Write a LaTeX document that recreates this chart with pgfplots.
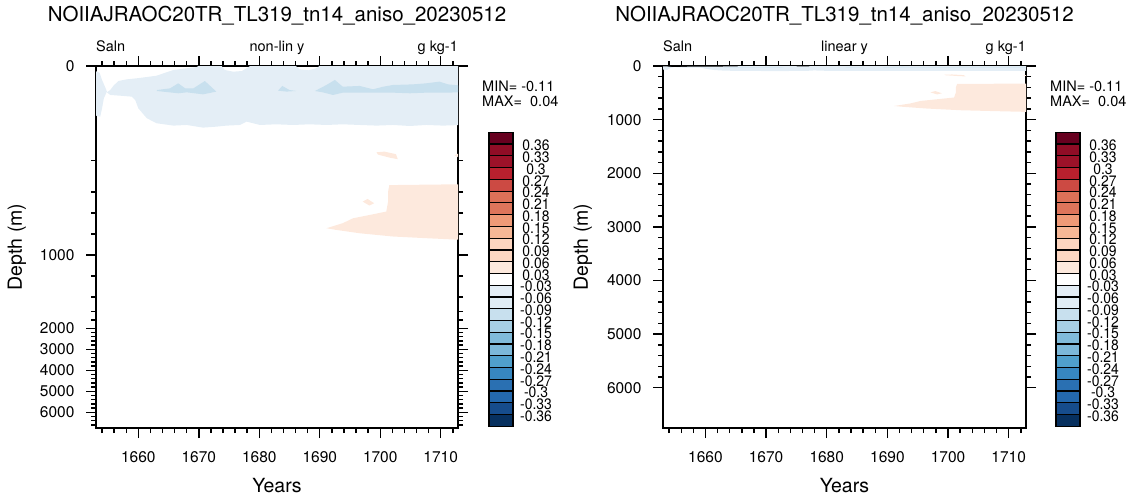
\documentclass[border=0pt]{standalone}
\usepackage{pgfplots}
\pgfplotsset{compat=1.18}
\usepackage{pgfplotstable}
\usepackage{graphicx}
\usepackage{fontspec}
\setmainfont{TeX Gyre Heros}

% 25-step diverging palette, top (red) to bottom (blue)
\definecolor{c01}{HTML}{67001F}
\definecolor{c02}{HTML}{900D26}
\definecolor{c03}{HTML}{9C1229}
\definecolor{c04}{HTML}{B8202E}
\definecolor{c05}{HTML}{CC4A43}
\definecolor{c06}{HTML}{DD7158}
\definecolor{c07}{HTML}{DE755B}
\definecolor{c08}{HTML}{EF9A77}
\definecolor{c09}{HTML}{F6B796}
\definecolor{c10}{HTML}{FDD5BF}
\definecolor{c11}{HTML}{FDD7C2}
\definecolor{c12}{HTML}{FDE9DD}
\definecolor{c13}{HTML}{FFFFFF}
\definecolor{c14}{HTML}{E4EEF6}
\definecolor{c15}{HTML}{E1EDF5}
\definecolor{c16}{HTML}{C8E0EE}
\definecolor{c17}{HTML}{A6CFE4}
\definecolor{c18}{HTML}{80BBDA}
\definecolor{c19}{HTML}{7CB8D9}
\definecolor{c20}{HTML}{50A0CC}
\definecolor{c21}{HTML}{3787C0}
\definecolor{c22}{HTML}{2A70B2}
\definecolor{c23}{HTML}{2468AD}
\definecolor{c24}{HTML}{164C8C}
\definecolor{c25}{HTML}{07305F}

% Salinity anomaly regions (year, depth in m)
\pgfplotstableread{
x y
1655.35 22.9
1655.9 18.7
1656.7 14.3
1658.1 12.7
1659.75 11.7
1661.4 10.5
1663.05 9.2
1664.15 7.0
1665.8 3.8
1668.0 2.2
1669.6 1.0
1670.7 -2
1673.5 -2
1674.3 3.8
1675.7 5.4
1677.1 4.8
1677.9 2.2
1679.0 -2
1685.6 -2
1686.7 3.2
1688.1 4.1
1689.4 2.2
1690.5 -2
1713.5 -2
1713.5 90.5
1710.4 92
1707.6 90.5
1704.9 92.9
1702.1 90.5
1699.4 92
1696.6 90.5
1693.8 88.9
1691.1 90.5
1688.3 88.9
1685.6 90.5
1682.8 88.9
1680.1 90.5
1677.9 82.5
1676.8 90.5
1674.6 92
1672.9 94.5
1670.7 96.8
1668.0 90.5
1665.8 92
1663.05 86.5
1661.4 74.5
1660.0 50.8
1659.48 34.8
1658.9 29.2
1657.0 28.3
1655.35 27.6
1654.8 25.1
}\bandmain

\pgfplotstableread{
x y
1652.5 3.8
1653.6 6.5
1654.0 13.3
1654.6 21.3
1654.8 24.4
1654.3 31.6
1654.0 50.8
1653.7 70.7
1652.5 66.7
}\bandedge

\pgfplotstableread{
x y
1663.05 22.9
1665.25 21.3
1666.6 16.5
1667.75 21.3
1669.1 21.3
1671.0 14.3
1672.9 24.4
1670.7 27.0
1668.0 25.1
1666.6 26.0
1663.05 23.8
}\darkA

\pgfplotstableread{
x y
1683.1 23.5
1683.8 19.0
1685.0 22.9
1686.1 23.8
1684.5 24.4
}\darkB

\pgfplotstableread{
x y
1689.2 23.8
1691.1 18.1
1692.5 13.3
1693.8 19.7
1696.6 19.0
1698.8 22.2
1700.5 19.7
1702.1 18.1
1705.4 17.5
1707.6 16.5
1709.8 14.9
1711.2 17.5
1713.5 18.7
1713.5 25.1
1710.4 25.4
1707.6 25.4
1704.9 26.0
1702.1 25.4
1699.4 25.4
1696.6 25.4
1693.8 25.4
1692.2 27.6
1690.5 25.1
}\darkC

\pgfplotstableread{
x y
1701.5 335
1713.5 327
1713.5 857
1707.6 841
1702.1 825
1696.6 794
1692.7 762
1691.1 746
1693.8 698
1695.5 651
1698.3 619
1701.0 587
1701.3 492
1701.3 397
}\warmmain

\pgfplotstableread{
x y
1697.1 492
1697.9 467
1699.0 508
1698.2 530
}\warmdiamond

\pgfplotstableread{
x y
1699.4 161
1700.7 158
1702.6 170
1702.9 194
1701.6 187
1699.6 172
}\warmblob

\pgfplotstableread{
x y
1713.5 160
1712.3 175
1713.5 195
}\warmedge

\pgfplotsset{
  ncl/.style={
    scale only axis, height=362pt,
    anchor=south west, clip mode=individual,
    xmin=1653, xmax=1712.86, ymin=0, ymax=6750, y dir=reverse,
    xtick={1660,1670,...,1710}, minor xtick={1654,1656,...,1712},
    scaled ticks=false,
    tick align=outside, major tick length=10pt, minor tick length=5pt,
    every tick/.style={black, line width=1.4pt},
    axis line style={line width=1.8pt},
    tick label style={font=\fontsize{15.5}{18}\selectfont},
    /pgf/number format/assume math mode=true,
    /pgf/number format/1000 sep={},
    xticklabel style={yshift=-10pt},
    yticklabel style={xshift=-8pt},
  },
  cold/.style={fill=c14, draw=none, forget plot},
  colder/.style={fill=c16, draw=none, forget plot},
  warm/.style={fill=c12, draw=none, forget plot},
}

\newcommand{\regions}{%
  \addplot[cold] table {\bandmain};
  \addplot[cold] table {\bandedge};
  \addplot[colder] table {\darkA};
  \addplot[colder] table {\darkB};
  \addplot[colder] table {\darkC};
  \addplot[warm] table {\warmmain};
  \addplot[warm] table {\warmdiamond};
  \addplot[warm] table {\warmblob};
  \addplot[warm] table {\warmedge};
}

% label bar: #1 = left edge of the boxes (pt)
\newcommand{\labelbar}[1]{%
  \foreach \c [count=\i from 0] in {c01,c02,c03,c04,c05,c06,c07,c08,c09,c10,c11,c12,c13,c14,c15,c16,c17,c18,c19,c20,c21,c22,c23,c24,c25} {
    \pgfmathsetmacro\ytop{366.7-\i*11.76}
    \filldraw[fill=\c, draw=black, line width=1.2pt] (#1pt,\ytop pt) rectangle ++(24pt,-11.76pt);
  }
  \pgfmathsetmacro\xl{#1+47}
  \foreach \t [count=\k from 1] in {0.36,0.33,0.3,0.27,0.24,0.21,0.18,0.15,0.12,0.09,0.06,0.03,-0.03,-0.06,-0.09,-0.12,-0.15,-0.18,-0.21,-0.24,-0.27,-0.3,-0.33,-0.36} {
    \pgfmathsetmacro\yl{366.7-\k*11.76-1.5}
    \node[inner sep=0pt, font=\fontsize{13.5}{13.5}\selectfont] at (\xl pt,\yl pt) {\scalebox{1.03}[1.12]{\t}};
  }
}

\newcommand{\headings}[3]{% #1 = axis left (pt), #2 = axis width (pt), #3 = middle note
  \pgfmathsetmacro\xc{#1+#2/2}
  \pgfmathsetmacro\xr{#1+#2}
  \pgfmathsetmacro\xm{#1+#2+24}
  \node[anchor=base, inner sep=0pt, font=\fontsize{20.5}{24}\selectfont] at (\xc pt,477pt) {NOIIAJRAOC20TR\_TL319\_tn14\_aniso\_20230512};
  \node[anchor=base west, inner sep=0pt, font=\fontsize{14.5}{17}\selectfont] at (#1pt,447pt) {Saln};
  \node[anchor=base, inner sep=0pt, font=\fontsize{14.5}{17}\selectfont] at (\xc pt,447pt) {#3};
  \node[anchor=base east, inner sep=0pt, font=\fontsize{14.5}{17}\selectfont] at (\xr pt,447pt) {g kg-1};
  \node[anchor=base west, inner sep=0pt, font=\fontsize{14.5}{17}\selectfont] at (\xm pt,407pt) {MIN= -0.11};
  \node[anchor=base west, inner sep=0pt, font=\fontsize{14.5}{17}\selectfont] at (\xm pt,392pt) {MAX= \ 0.04};
  \node[anchor=base, inner sep=0pt, font=\fontsize{19.5}{23}\selectfont] at (\xc pt,7pt) {Years};
}

\begin{document}
\begin{tikzpicture}
\path[use as bounding box] (0pt,0pt) rectangle (1132pt,499pt);

% depth axis stretched by model level
\begin{axis}[ncl, at={(96pt,71pt)}, width=362pt,
  y coord trafo/.code={\pgfmathparse{(#1<=30) ? (#1/10) : ((#1<=50) ? (3+(#1-30)/20) : ((#1<=150) ? (4+(#1-50)/25) : ((#1<=300) ? (8+(#1-150)/50) : ((#1<=1500) ? (11+(#1-300)/100) : ((#1<=2000) ? (23+(#1-1500)/250) : (25+(#1-2000)/500))))))}},
  ytick={0,1000,2000,3000,4000,5000,6000},
  yticklabels={0,1000,2000,3000,4000,5000,6000},
  minor ytick={200,400,...,6600},
]
\regions
\end{axis}

\begin{axis}[ncl, at={(663pt,71pt)}, width=363pt,
  ytick={0,1000,...,6000}, minor y tick num=4,
]
\regions
\end{axis}

\node[rotate=90, font=\fontsize{19.5}{23}\selectfont] at (17pt,252pt) {Depth (m)};
\node[rotate=90, font=\fontsize{19.5}{23}\selectfont] at (583pt,252pt) {Depth (m)};

\headings{96}{362}{non-lin y}
\headings{663}{363}{linear y}
\labelbar{489}
\labelbar{1056}
\end{tikzpicture}
\end{document}
